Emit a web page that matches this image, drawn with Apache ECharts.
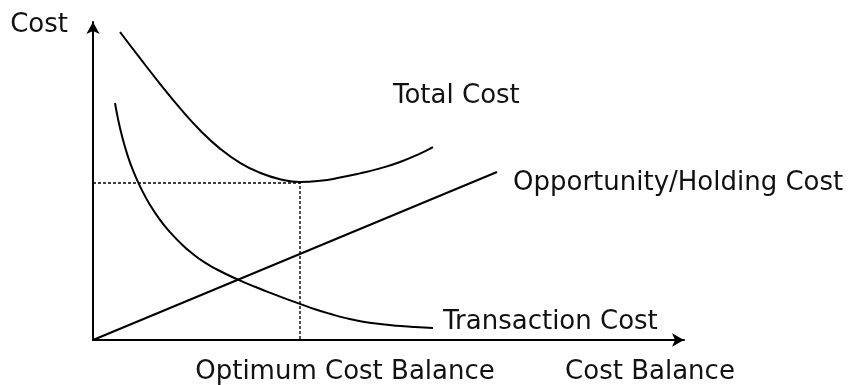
<!DOCTYPE html>
<html>
<head>
<meta charset="utf-8">
<script src="https://cdn.jsdelivr.net/npm/echarts@6/dist/echarts.min.js"></script>
<style>
  html, body { margin: 0; padding: 0; background: #fff; }
  #chart { width: 853px; height: 385px; }
</style>
</head>
<body>
<div id="chart"></div>
<script>
// values, origin at the axes' corner
const totalX = [27, 47, 67, 87, 107, 127, 147, 167, 187, 207, 227, 247, 267, 287, 307, 327, 340]
const totalY = [308, 281.8, 256.2, 231.8, 209.8, 191.4, 177.2, 167.2, 160.8, 158, 159.2, 162.4, 166.6, 171.6, 178, 186.4, 192.9]
const transX = [22, 25, 29, 34, 40, 48, 57, 67, 77, 88, 99, 112, 124, 136, 149, 162, 174, 191, 207, 222, 237, 253, 270, 287, 304, 322, 340]
const transY = [237, 221.1, 203.9, 186.4, 169.6, 151.6, 135.1, 120.1, 107.9, 96.4, 86.7, 77.3, 70.5, 64.5, 58.6, 53.2, 48.4, 41.9, 36.1, 30.8, 26.2, 21.9, 18.3, 15.9, 14.2, 12.9, 11.9]
const holdX = [0, 404]
const holdY = [0, 168]
const optimum = [207, 157]

const pairs = (xs, ys) => xs.map((x, i) => [x, ys[i]])
const font = 'DejaVu Sans'
const labelStyle = { color: '#111', fontSize: 26, fontFamily: font }

let myChart = echarts.init(document.getElementById('chart'))
let option = {
  animation: false,
  grid: { left: 93, right: 169, top: 22, bottom: 45 },
  xAxis: {
    type: 'value',
    min: 0,
    max: 591,
    name: 'Cost Balance',
    nameLocation: 'end',
    nameGap: -34,
    nameTextStyle: Object.assign({ align: 'center', verticalAlign: 'top', padding: [19, 0, 0, 0] }, labelStyle),
    axisLine: { lineStyle: { color: '#000', width: 2 }, symbol: ['none', 'arrow'], symbolSize: [10, 12] },
    axisTick: { show: false },
    splitLine: { show: false },
    axisLabel: {
      customValues: [optimum[0]],
      formatter: () => 'Optimum Cost Balance',
      margin: 19,
      padding: [0, 0, 0, 90],
      color: '#111',
      fontSize: 26,
      fontFamily: font
    }
  },
  yAxis: {
    type: 'value',
    min: 0,
    max: 318,
    name: 'Cost',
    nameLocation: 'end',
    nameGap: -3,
    nameTextStyle: Object.assign({ align: 'right', verticalAlign: 'middle', padding: [0, 25, 0, 0] }, labelStyle),
    axisLine: { lineStyle: { color: '#000', width: 2 }, symbol: ['none', 'arrow'], symbolSize: [10, 12] },
    axisTick: { show: false },
    splitLine: { show: false },
    axisLabel: { show: false }
  },
  series: [
    {
      name: 'Total Cost',
      type: 'line',
      smooth: 0.5,
      showSymbol: false,
      lineStyle: { color: '#000', width: 2 },
      data: pairs(totalX, totalY),
      endLabel: Object.assign({ show: true, formatter: '{a}', offset: [-48, -51] }, labelStyle)
    },
    {
      name: 'Transaction Cost',
      type: 'line',
      smooth: 0.5,
      showSymbol: false,
      lineStyle: { color: '#000', width: 2 },
      data: pairs(transX, transY),
      endLabel: Object.assign({ show: true, formatter: '{a}', distance: 10, offset: [0, -6] }, labelStyle)
    },
    {
      name: 'Opportunity/Holding Cost',
      type: 'line',
      showSymbol: false,
      lineStyle: { color: '#000', width: 2 },
      data: pairs(holdX, holdY),
      endLabel: Object.assign({ show: true, formatter: '{a}', distance: 16, offset: [0, 11] }, labelStyle)
    },
    {
      name: 'optimum',
      type: 'line',
      showSymbol: false,
      lineStyle: { color: '#000', width: 1.4, type: [3, 2] },
      data: [[0, optimum[1]], optimum, [optimum[0], 0]]
    }
  ]
}
myChart.setOption(option)
</script>
</body>
</html>
